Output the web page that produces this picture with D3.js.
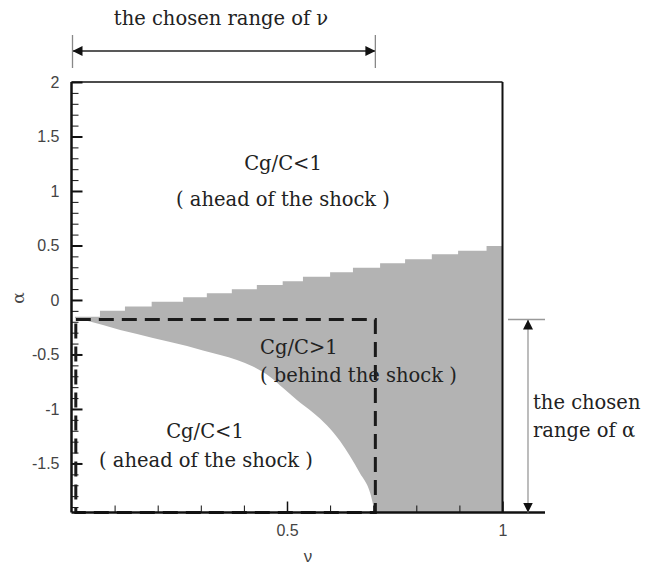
<!DOCTYPE html>
<html>
<head>
<meta charset="utf-8">
<script src="https://cdn.jsdelivr.net/npm/d3@7"></script>
<style>
  html, body { margin: 0; padding: 0; background: #fff; }
  svg { display: block; }
  .tick text { font-family: "Liberation Sans", Arial, sans-serif; font-size: 16px; fill: #444; }
  .tick line { stroke: #111; }
  .note { font-family: "DejaVu Serif", Georgia, serif; font-size: 19.5px; fill: #222; }
</style>
</head>
<body>
<svg id="chart" width="646" height="565"></svg>
<script>
// Upper boundary of the Cg/C>1 region (staircase): nu where each step starts, alpha level
const upperNu    = [0.008, 0.066, 0.124, 0.186, 0.259, 0.314, 0.372, 0.430, 0.490, 0.537, 0.600, 0.653, 0.716, 0.774, 0.836, 0.897, 0.963, 1.000];
const upperAlpha = [-0.153, -0.098, -0.061, -0.016, 0.025, 0.061, 0.098, 0.138, 0.172, 0.214, 0.254, 0.296, 0.337, 0.373, 0.419, 0.452, 0.495, 0.495];

// Lower boundary of the Cg/C>1 region (smooth curve)
const lowerNu    = [0.008, 0.073, 0.113, 0.152, 0.189, 0.229, 0.268, 0.305, 0.345, 0.384, 0.421, 0.461, 0.491, 0.523, 0.560, 0.593, 0.623, 0.646, 0.669, 0.693, 0.704];
const lowerAlpha = [-0.165, -0.229, -0.275, -0.312, -0.349, -0.385, -0.422, -0.463, -0.505, -0.550, -0.610, -0.706, -0.807, -0.917, -1.032, -1.151, -1.294, -1.431, -1.587, -1.771, -1.950];

// Chosen parameter window
const chosenNu    = [0.01, 0.705];
const chosenAlpha = [-1.95, -0.18];

// Axis ticks
const yMajor = [-1.5, -1, -0.5, 0, 0.5, 1, 1.5, 2];
const yMinor = d3.range(-19, 20).map(d => d / 10).filter(d => !yMajor.includes(d));
const xMajor = [0.5, 1];
const xMinor = [0.1, 0.2, 0.3, 0.4, 0.6, 0.7, 0.8, 0.9];
const xDomain = [0, 1];
const yDomain = [-1.95, 2];

const svg = d3.select("#chart");
const x = d3.scaleLinear().domain(xDomain).range([71.5, 502.5]);
const y = d3.scaleLinear().domain(yDomain).range([512.5, 82]);
const yBottom = yDomain[0];
const plain = d => String(d);

const upper = upperNu.map((n, i) => [n, upperAlpha[i]]);
const lower = lowerNu.map((n, i) => [n, lowerAlpha[i]]);

// Grey region: everything under the staircase ...
svg.append("path")
  .datum(upper)
  .attr("fill", "#b3b3b3")
  .attr("d", d3.area()
    .x(d => x(d[0]))
    .y0(y(yBottom))
    .y1(d => y(d[1]))
    .curve(d3.curveStepAfter));

// ... minus the Cg/C<1 pocket below the smooth boundary
svg.append("path")
  .datum(lower)
  .attr("fill", "#fff")
  .attr("d", d3.area()
    .x(d => x(d[0]))
    .y0(y(yBottom) + 1)
    .y1(d => y(d[1]))
    .curve(d3.curveMonotoneX));

// Minor and major ticks (pointing inward)
const gy = svg.append("g").attr("transform", `translate(${x(0)},0)`);
gy.call(d3.axisLeft(y).tickValues(yMinor).tickSize(-7).tickFormat(""));
gy.call(g => g.select(".domain").remove());
const gyM = svg.append("g").attr("transform", `translate(${x(0)},0)`);
gyM.call(d3.axisLeft(y).tickValues(yMajor).tickSize(-11).tickPadding(12).tickFormat(plain));
gyM.call(g => g.select(".domain").remove());
gyM.selectAll(".tick line").attr("stroke-width", 2);

const gx = svg.append("g").attr("transform", `translate(0,${y(yBottom)})`);
gx.call(d3.axisBottom(x).tickValues(xMinor).tickSize(-7).tickFormat(""));
gx.call(g => g.select(".domain").remove());
const gxM = svg.append("g").attr("transform", `translate(0,${y(yBottom)})`);
gxM.call(d3.axisBottom(x).tickValues(xMajor).tickSize(-11).tickPadding(12).tickFormat(plain));
gxM.call(g => g.select(".domain").remove());
gxM.selectAll(".tick line").attr("stroke-width", 1.5);

// Dashed window of the chosen ranges
svg.append("rect")
  .attr("x", x(chosenNu[0]))
  .attr("y", y(chosenAlpha[1]))
  .attr("width", x(chosenNu[1]) - x(chosenNu[0]))
  .attr("height", y(chosenAlpha[0]) - y(chosenAlpha[1]))
  .attr("fill", "none")
  .attr("stroke", "#1a1a1a")
  .attr("stroke-width", 3)
  .attr("stroke-dasharray", "15,8");

// Frame
const frame = svg.append("g").attr("stroke", "#111").attr("fill", "none");
frame.append("line").attr("x1", x(0)).attr("x2", x(1)).attr("y1", y(2)).attr("y2", y(2)).attr("stroke-width", 1.5);
frame.append("line").attr("x1", x(0)).attr("x2", x(0)).attr("y1", y(2)).attr("y2", y(yBottom)).attr("stroke-width", 2.5);
frame.append("line").attr("x1", x(1)).attr("x2", x(1)).attr("y1", y(2)).attr("y2", y(yBottom)).attr("stroke-width", 2);
frame.append("line").attr("x1", x(0)).attr("x2", 545).attr("y1", y(yBottom)).attr("y2", y(yBottom)).attr("stroke-width", 2.5);

// Axis titles
svg.append("text")
  .attr("x", 308).attr("y", 562)
  .attr("text-anchor", "middle")
  .style("font-family", "'Liberation Sans', Arial, sans-serif")
  .style("font-size", "17px").style("fill", "#444")
  .text("ν");
svg.append("text")
  .attr("transform", "translate(24,298) rotate(-90)")
  .attr("text-anchor", "middle")
  .style("font-family", "'DejaVu Serif', serif")
  .style("font-size", "17px").style("fill", "#444")
  .text("α");

// Arrow heads
const defs = svg.append("defs");
defs.append("marker")
  .attr("id", "head")
  .attr("viewBox", "0 0 10 10")
  .attr("refX", 10).attr("refY", 5)
  .attr("markerWidth", 10).attr("markerHeight", 10)
  .attr("markerUnits", "userSpaceOnUse")
  .attr("orient", "auto-start-reverse")
  .append("path").attr("d", "M0,0 L10,5 L0,10 Z").attr("fill", "#111");

// Chosen range of nu (top)
const topY = 51;
svg.append("line")
  .attr("x1", x(0) + 1).attr("x2", x(chosenNu[1]))
  .attr("y1", topY).attr("y2", topY)
  .attr("stroke", "#222").attr("stroke-width", 1.3)
  .attr("marker-start", "url(#head)").attr("marker-end", "url(#head)");
[x(0) + 1, x(chosenNu[1])].forEach(px => {
  svg.append("line").attr("x1", px).attr("x2", px).attr("y1", 35).attr("y2", 68)
    .attr("stroke", "#888").attr("stroke-width", 1.3);
});
svg.append("text").attr("class", "note")
  .attr("x", 221).attr("y", 25)
  .attr("text-anchor", "middle")
  .text("the chosen range of ν");

// Chosen range of alpha (right)
const arrX = 528;
svg.append("line")
  .attr("x1", 508).attr("x2", 545)
  .attr("y1", y(chosenAlpha[1])).attr("y2", y(chosenAlpha[1]))
  .attr("stroke", "#999").attr("stroke-width", 1.5);
svg.append("line")
  .attr("x1", arrX).attr("x2", arrX)
  .attr("y1", y(chosenAlpha[1])).attr("y2", y(chosenAlpha[0]))
  .attr("stroke", "#999").attr("stroke-width", 1.3)
  .attr("marker-start", "url(#head)").attr("marker-end", "url(#head)");
const rightNote = svg.append("text").attr("class", "note");
rightNote.append("tspan").attr("x", 533).attr("y", 409).text("the chosen");
rightNote.append("tspan").attr("x", 533).attr("y", 437).text("range of α");

// Region labels
const upperLbl = svg.append("text").attr("class", "note").attr("text-anchor", "middle");
upperLbl.append("tspan").attr("x", 283).attr("y", 170).text("Cg/C<1");
upperLbl.append("tspan").attr("x", 283).attr("y", 206).text("( ahead of the shock )");

const midLbl = svg.append("text").attr("class", "note");
midLbl.append("tspan").attr("x", 260).attr("y", 354).text("Cg/C>1");
midLbl.append("tspan").attr("x", 260).attr("y", 382).text("( behind the shock )");

const lowLbl = svg.append("text").attr("class", "note").attr("text-anchor", "middle");
lowLbl.append("tspan").attr("x", 205).attr("y", 438).text("Cg/C<1");
lowLbl.append("tspan").attr("x", 206).attr("y", 467).text("( ahead of the shock )");
</script>
</body>
</html>
